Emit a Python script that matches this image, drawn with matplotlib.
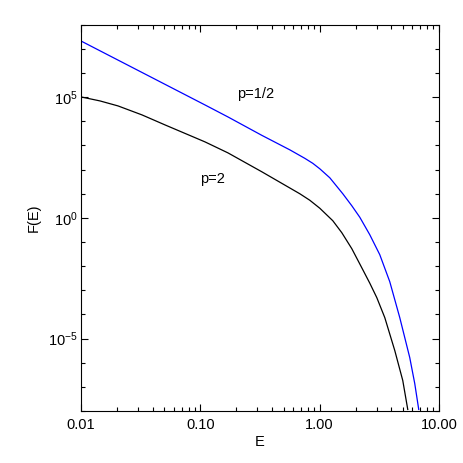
import matplotlib
matplotlib.use('Agg')
import matplotlib.pyplot as plt
from matplotlib.ticker import FixedLocator, LogLocator, NullFormatter

plt.rcParams['font.family'] = ['Liberation Sans', 'DejaVu Sans']
plt.rcParams['mathtext.default'] = 'regular'

# p = 1/2 curve (blue)
e_half = [0.0100, 0.1093, 0.1702, 0.3280, 0.5627, 0.7515, 0.877, 1.0039,
          1.2174, 1.5646, 1.8612, 2.1712, 2.6327, 3.1930, 3.8712, 4.6960,
          5.6930, 6.2700, 6.7720]
f_half = [2.081e7, 4.717e4, 1.506e4, 2.590e3, 651.6, 290.2, 180.0, 106.9,
          45.4, 9.906, 3.162, 1.059, 0.2002, 2.987e-2, 2.288e-3, 7.44e-5,
          1.656e-6, 1.395e-7, 1.175e-8]

# p = 2 curve (black)
e_two = [0.0100, 0.01442, 0.02041, 0.03243, 0.05052, 0.1093, 0.1702, 0.3280,
         0.4732, 0.6827, 0.8276, 1.0039, 1.2898, 1.5346, 1.8612, 2.3000,
         2.6327, 3.0142, 3.5170, 4.2650, 4.9760, 5.4800]
f_two = [1.010e5, 6.898e4, 4.288e4, 1.821e4, 7.034e3, 1.395e3, 489.9, 80.35,
         28.21, 9.906, 5.337, 2.493, 0.7589, 0.2423, 5.284e-2, 7.166e-3,
         1.983e-3, 4.993e-4, 7.44e-5, 3.224e-6, 1.856e-7, 1.175e-8]

x_ticks = [0.01, 0.1, 1.0, 10.0]
x_labels = ['0.01', '0.10', '1.00', '10.00']
y_ticks = [1e-5, 1e0, 1e5]
y_labels = ['10$^{-5}$', '10$^{0}$', '10$^{5}$']

fig = plt.figure(figsize=(4.63, 4.63), dpi=100)
ax = fig.add_axes([0.175, 0.112, 0.773, 0.835])

ax.plot(e_half, f_half, color='#0000ff', lw=0.9)
ax.plot(e_two, f_two, color='black', lw=0.9)

ax.set_xscale('log')
ax.set_yscale('log')
ax.set_xlim(0.01, 10)
ax.set_ylim(1e-8, 1e8)

ax.xaxis.set_major_locator(FixedLocator(x_ticks))
ax.set_xticklabels(x_labels)
ax.xaxis.set_minor_locator(LogLocator(base=10, subs=range(2, 10), numticks=20))
ax.xaxis.set_minor_formatter(NullFormatter())

ax.yaxis.set_major_locator(FixedLocator(y_ticks))
ax.set_yticklabels(y_labels)
ax.yaxis.set_minor_locator(LogLocator(base=10, subs=(1.0,), numticks=30))
ax.yaxis.set_minor_formatter(NullFormatter())

ax.tick_params(which='both', direction='in', top=True, right=True,
               width=0.8, colors='black', labelsize=10.5)
ax.tick_params(which='major', length=5)
ax.tick_params(which='minor', length=2.8)
ax.tick_params(axis='x', pad=5)
ax.tick_params(axis='y', pad=2.5)
for s in ax.spines.values():
    s.set_linewidth(0.8)

ax.set_xlabel('E', fontsize=10.5)
ax.set_ylabel('F(E)', fontsize=10.5)
ax.xaxis.set_label_coords(0.5, -0.062)
ax.yaxis.set_label_coords(-0.113, 0.5)

ax.text(0.292, 1.34e5, 'p=1/2', fontsize=10.5, ha='center', va='center')
ax.text(0.1275, 41.3, 'p=2', fontsize=10.5, ha='center', va='center')

fig.savefig('out.png', dpi=100)
